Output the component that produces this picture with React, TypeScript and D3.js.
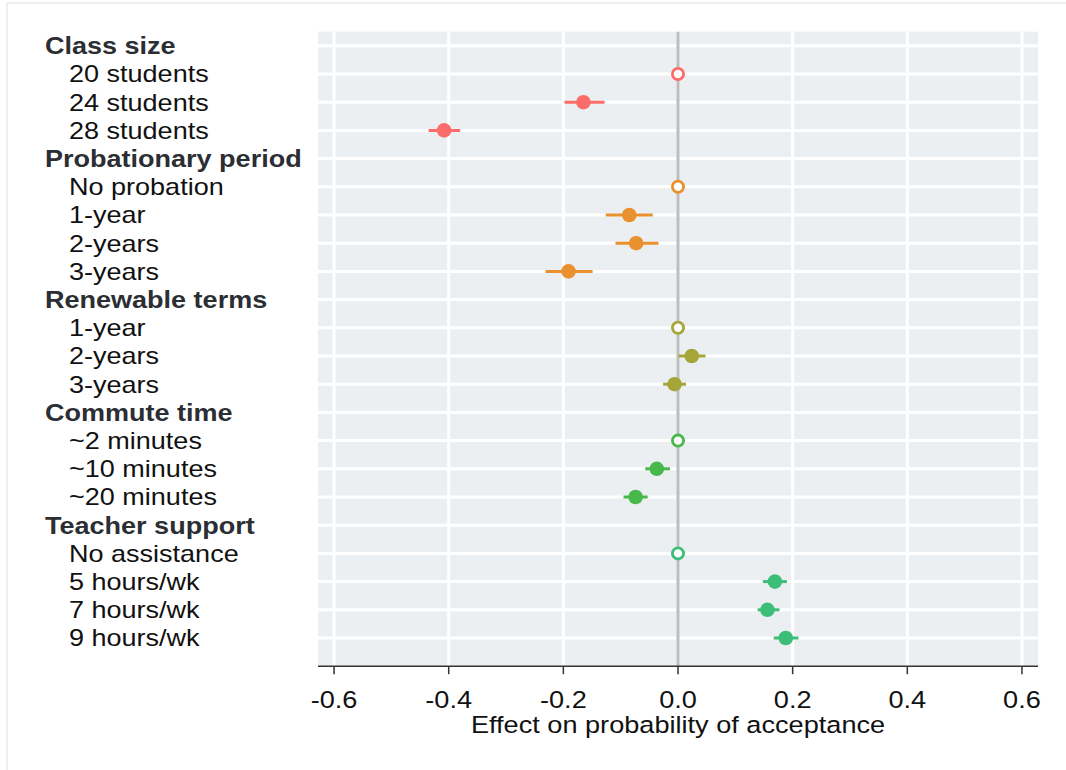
import React from "react";
import * as d3 from "d3";

const groupNames = ["Class size", "Probationary period", "Renewable terms", "Commute time", "Teacher support"];
const groupColors = ["#FC6C6A", "#E8912E", "#A5A53A", "#47B84A", "#3CBE78"];

const classLabels = ["20 students", "24 students", "28 students"];
const classEst = [0, -0.165, -0.408];
const classLo = [0, -0.198, -0.435];
const classHi = [0, -0.128, -0.38];

const probLabels = ["No probation", "1-year", "2-years", "3-years"];
const probEst = [0, -0.085, -0.073, -0.191];
const probLo = [0, -0.126, -0.109, -0.231];
const probHi = [0, -0.044, -0.034, -0.149];

const renewLabels = ["1-year", "2-years", "3-years"];
const renewEst = [0, 0.024, -0.006];
const renewLo = [0, 0.001, -0.026];
const renewHi = [0, 0.048, 0.014];

const commuteLabels = ["~2 minutes", "~10 minutes", "~20 minutes"];
const commuteEst = [0, -0.037, -0.074];
const commuteLo = [0, -0.057, -0.095];
const commuteHi = [0, -0.014, -0.053];

const supportLabels = ["No assistance", "5 hours/wk", "7 hours/wk", "9 hours/wk"];
const supportEst = [0, 0.169, 0.156, 0.188];
const supportLo = [0, 0.148, 0.139, 0.167];
const supportHi = [0, 0.19, 0.177, 0.21];

const xTicks = [-0.6, -0.4, -0.2, 0.0, 0.2, 0.4, 0.6];

const groupLevels = [classLabels, probLabels, renewLabels, commuteLabels, supportLabels];
const groupEst = [classEst, probEst, renewEst, commuteEst, supportEst];
const groupLo = [classLo, probLo, renewLo, commuteLo, supportLo];
const groupHi = [classHi, probHi, renewHi, commuteHi, supportHi];

type Row = { label: string; header: boolean; g: number; est?: number; lo?: number; hi?: number; ref?: boolean };

const rows: Row[] = [];
groupNames.forEach((name, g) => {
  rows.push({ label: name, header: true, g });
  groupLevels[g].forEach((lab, i) => {
    rows.push({ label: lab, header: false, g, est: groupEst[g][i], lo: groupLo[g][i], hi: groupHi[g][i], ref: i === 0 });
  });
});

const SX = 1.155;
const FONT = "Liberation Sans, Arial, Helvetica, sans-serif";

export default function App() {
  const x = d3.scaleLinear().domain([-0.628, 0.628]).range([318, 1038]);
  const y = d3.scaleLinear().domain([-0.5, rows.length]).range([31.7, 666.2]);
  const left = x(-0.628), right = x(0.628), top = y(-0.5), bottom = y(rows.length);
  const fmt = (v: number) => d3.format(".1f")(v).replace("\u2212", "-");

  return (
    <svg width={1066} height={770} style={{ position: "absolute", left: 0, top: 0, background: "#fff" }}>
      <line x1={7} y1={3} x2={1066} y2={3} stroke="#e6eaee" strokeWidth={1.5} />
      <line x1={7} y1={3} x2={7} y2={770} stroke="#e6eaee" strokeWidth={1.5} />
      <rect x={left} y={top} width={right - left} height={bottom - top} fill="#ECEFF1" />
      {xTicks.map((t) => (
        <line key={"vg" + t} x1={x(t)} x2={x(t)} y1={top} y2={bottom} stroke="#fff" strokeWidth={3} />
      ))}
      {rows.map((r, i) => (
        <line key={"hg" + i} x1={left} x2={right} y1={y(i)} y2={y(i)} stroke="#fff" strokeWidth={3} />
      ))}
      <line x1={x(0)} x2={x(0)} y1={top} y2={bottom} stroke="#BDBDBD" strokeWidth={3} />
      {rows.map((r, i) =>
        r.header || r.ref ? null : (
          <line key={"ci" + i} x1={x(r.lo!)} x2={x(r.hi!)} y1={y(i)} y2={y(i)} stroke={groupColors[r.g]} strokeWidth={3} />
        )
      )}
      {rows.map((r, i) =>
        r.header ? null : r.ref ? (
          <circle key={"pt" + i} cx={x(r.est!)} cy={y(i)} r={5.6} fill="#fff" stroke={groupColors[r.g]} strokeWidth={2.8} />
        ) : (
          <circle key={"pt" + i} cx={x(r.est!)} cy={y(i)} r={7.3} fill={groupColors[r.g]} />
        )
      )}
      <line x1={left} x2={right} y1={bottom} y2={bottom} stroke="#333" strokeWidth={1.5} />
      {xTicks.map((t) => (
        <g key={"t" + t}>
          <line x1={x(t)} x2={x(t)} y1={bottom} y2={bottom + 8} stroke="#333" strokeWidth={1.5} />
          <text
            transform={`translate(${x(t)},707.5) scale(${SX},1)`}
            textAnchor="middle"
            fontFamily={FONT}
            fontSize={23.5}
            fill="#111"
          >
            {fmt(t)}
          </text>
        </g>
      ))}
      <text transform={`translate(${x(0)},733) scale(${SX},1)`} textAnchor="middle" fontFamily={FONT} fontSize={23.5} fill="#111">
        Effect on probability of acceptance
      </text>
      {rows.map((r, i) => (
        <text
          key={"lab" + i}
          transform={`translate(${r.header ? 45 : 69},${y(i) + 8.4}) scale(${SX},1)`}
          fontFamily={FONT}
          fontSize={23.4}
          fontWeight={r.header ? "bold" : "normal"}
          fill={r.header ? "#2b2e33" : "#111"}
        >
          {r.label}
        </text>
      ))}
    </svg>
  );
}
